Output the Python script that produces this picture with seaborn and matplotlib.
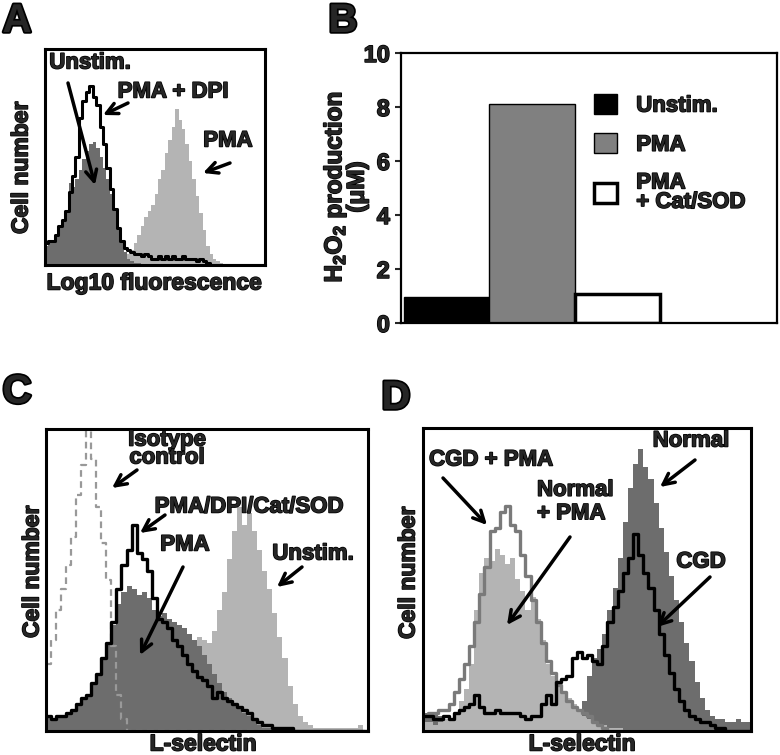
import numpy as np
import pandas as pd
import matplotlib
matplotlib.use("Agg")
import matplotlib.pyplot as plt
import matplotlib.patheffects as pe
import seaborn as sns
from matplotlib.patches import Patch

# ---------------- data (bins 0..63, height in % of panel) -------------
# panel A : Log10 fluorescence histograms
a_pma = [0,0,0,0,0,0,0,0,0,0,0,0,0,0,0,0,0,0,0,0,0,0,2,3,5,7,10,14,18,22,25,28,
         33,40,44,52,58,64,72,67,63,56,48,40,32,24,16,9,5,3,2,1,0,0,0,0,0,0,0,0,0,0,0,0]
a_unstim = [9,10,11,13,17,20,24,38,36,40,44,49,53,56,57,54,50,45,40,33,25,17,10,6,3,2,1,1,0,0,0,0,
            0,0,0,0,0,0,0,0,0,0,0,0,0,0,0,0,0,0,0,0,0,0,0,0,0,0,0,0,0,0,0,0]
a_pma_dpi = [10,11,11,14,18,21,25,34,41,50,68,76,80,83,78,74,64,56,45,35,26,17,11,8,7,6,5,5,4,5,4,3,
             3,4,3,4,3,4,3,3,4,3,3,3,2,3,2,1,0,0,0,0,0,0,0,0,0,0,0,0,0,0,0,0]

# panel B : H2O2 production (uM)
b_labels = ["Unstim.", "PMA", "PMA\n+ Cat/SOD"]
b_values = [0.97, 8.11, 1.07]
b_colors = ["black", "#808080", "white"]

# panel C : L-selectin histograms
c_iso = [22,30,40,47,55,64,78,88,110,90,74,62,50,28,12,4,0,0,0,0,0,0,0,0,0,0,0,0,0,0,0,0,
         0,0,0,0,0,0,0,0,0,0,0,0,0,0,0,0,0,0,0,0,0,0,0,0,0,0,0,0,0,0,0,0]
c_unstim = [0,0,0,0,0,0,0,0,0,0,0,0,0,0,0,0,0,0,3,5,8,12,16,20,24,27,29,30,30,30,31,30,
            29,33,40,46,57,66,74,68,72,66,60,53,47,39,31,24,15,9,5,3,2,1,1,1,1,1,1,1,1,1,2,0]
c_pma = [5,4,5,5,6,7,9,11,12,16,19,24,29,35,42,46,48,47,45,46,44,40,38,39,37,36,35,34,32,30,28,25,
         22,19,16,13,11,9,8,6,5,4,2,1,1,0,0,0,0,0,0,0,0,0,0,0,0,0,0,0,0,0,0,0]
c_pma_dpi = [5,4,5,5,6,7,9,11,12,16,19,24,29,36,47,55,60,68,59,57,53,44,37,36,34,30,28,25,22,20,18,17,
             15,11,13,11,10,9,8,7,6,4,3,2,2,1,1,1,1,0,0,0,0,0,0,0,0,0,0,0,0,0,0,0]

# panel D : L-selectin histograms, CGD vs normal
d_normal = [6,6,6,5,4,3,3,3,3,3,3,3,3,3,3,3,3,3,3,3,3,3,3,3,3,3,3,3,4,5,7,10,
            18,24,27,32,40,47,57,69,80,88,93,87,83,75,67,59,51,43,36,29,23,16,11,7,5,4,4,3,3,4,3,3]
d_normal_pma = [3,3,2,3,4,4,6,10,14,22,40,52,57,56,60,58,55,57,50,46,40,44,37,30,22,18,15,13,11,9,7,5,
                4,3,2,2,1,1,1,0,0,0,0,0,0,0,0,0,0,0,0,0,0,0,0,0,0,0,0,0,0,0,0,0]
d_cgd_pma = [5,6,6,7,7,9,13,17,22,28,36,45,54,66,67,72,74,68,66,58,51,43,36,29,23,19,15,13,10,8,7,6,
             5,3,2,1,0,0,0,0,0,0,0,0,0,0,0,0,0,0,0,0,0,0,0,0,0,0,0,0,0,0,0,0]
d_cgd = [5,5,4,4,5,4,6,7,8,9,12,8,6,6,7,6,6,6,6,5,4,5,5,9,12,9,16,17,18,24,26,24,
         25,23,22,28,36,41,46,52,57,65,58,52,47,40,32,25,19,14,10,7,5,4,3,3,2,1,1,0,0,0,0,0]

LIGHT = "#b4b4b4"
DARK = "#6d6d6d"
HEAVY = [pe.withStroke(linewidth=1.1, foreground="black")]

sns.set_style("white")
plt.rcParams["font.family"] = ["Liberation Sans", "DejaVu Sans"]
plt.rcParams["font.weight"] = "bold"
plt.rcParams["mathtext.fontset"] = "custom"
plt.rcParams["mathtext.bf"] = "Liberation Sans:bold"
plt.rcParams["mathtext.rm"] = "Liberation Sans:bold"
plt.rcParams["mathtext.default"] = "bf"

W, H = 780, 755
fig = plt.figure(figsize=(W / 100, H / 100), dpi=100)


def F(x, y):
    return (x / W, 1 - y / H)


def panel(l, t, r, b):
    ax = fig.add_axes([l / W, 1 - b / H, (r - l) / W, (b - t) / H])
    return ax


def hist(ax, vals, fill, **kw):
    n = len(vals)
    d = pd.DataFrame({"chan": np.arange(n) + 0.5, "count": np.asarray(vals, dtype=float)})
    sns.histplot(data=d, x="chan", weights="count", bins=n, binrange=(0, n),
                 element="step", fill=fill, ax=ax, **kw)


def frame(ax, lw=2.2):
    ax.set_xlim(0, 64)
    ax.set_ylim(0, 100)
    ax.set_xticks([])
    ax.set_yticks([])
    ax.set_xlabel("")
    ax.set_ylabel("")
    for s in ax.spines.values():
        s.set_visible(True)
        s.set_linewidth(lw)
        s.set_color("black")


def txt(x, y, s, size=16, stroke=HEAVY, **kw):
    fig.text(*F(x, y), s, ha=kw.pop("ha", "center"), va="center", fontsize=size,
             fontweight="bold", path_effects=stroke, **kw)


def arrow(ax, x0, y0, x1, y1):
    ax.annotate("", xy=F(x1, y1), xytext=F(x0, y0), xycoords="figure fraction",
                textcoords="figure fraction", annotation_clip=False,
                arrowprops=dict(arrowstyle="->", color="black", lw=2.5,
                                mutation_scale=20, shrinkA=0, shrinkB=0))


# ---------------- A ----------------
axA = panel(44.5, 49, 264.5, 265)
hist(axA, a_pma, True, color=LIGHT, alpha=1, linewidth=0)
hist(axA, a_unstim, True, color=DARK, alpha=1, linewidth=0)
hist(axA, a_pma_dpi, False, color="black", linewidth=2.2)
frame(axA)
txt(90, 63, "Unstim.")
txt(173, 92, "PMA + DPI")
txt(228, 141, "PMA")
arrow(axA, 68, 83, 95, 185)
arrow(axA, 128, 103, 103, 115)
arrow(axA, 230, 163, 203, 173)
txt(154, 283, "Log10 fluorescence", size=16.5)
txt(21, 168, "Cell number", size=16.5, rotation=90)

# ---------------- B ----------------
axB = panel(401, 53, 777, 323)
dfB = pd.DataFrame({"cond": b_labels, "h2o2": b_values})
sns.barplot(data=dfB, x="cond", y="h2o2", hue="cond", palette=b_colors, width=1,
            edgecolor="black", linewidth=1, legend=False, ax=axB)
axB.patches[2].set_linewidth(2.5)
axB.set_xlim(-0.54, 3.88)
axB.set_ylim(0, 10)
axB.set_yticks([0, 2, 4, 6, 8, 10])
axB.set_xticks([])
axB.set_xlabel("")
axB.set_ylabel("")
axB.tick_params(axis="y", direction="out", length=4, width=1.5, labelsize=17, left=True, pad=4)
for lab in axB.get_yticklabels():
    lab.set_path_effects(HEAVY)
for s in axB.spines.values():
    s.set_visible(True)
    s.set_linewidth(1.6)
    s.set_color("black")
handles = [Patch(facecolor=c, edgecolor="black", linewidth=lw)
           for c, lw in zip(b_colors, [1, 1, 2.5])]
leg = axB.legend(handles, b_labels, loc="upper left", bbox_to_anchor=F(594, 94),
                 bbox_transform=fig.transFigure, frameon=False, fontsize=16,
                 handlelength=1.05, handleheight=1.0, handletextpad=0.85,
                 labelspacing=0.75, borderpad=0, borderaxespad=0)
for t in leg.get_texts():
    t.set_linespacing(0.9)
    t.set_path_effects(HEAVY)
txt(345, 187, "H$_2$O$_2$ production\n(\u03bcM)", size=17.5, rotation=90, linespacing=0.85)

# ---------------- C ----------------
axC = panel(46, 428.5, 368, 731)
hist(axC, c_iso, False, color="#999999", linewidth=1.6, linestyle=(0, (3, 2)))
hist(axC, c_unstim, True, color=LIGHT, alpha=1, linewidth=0)
hist(axC, c_pma, True, color=DARK, alpha=1, linewidth=0)
hist(axC, c_pma_dpi, False, color="black", linewidth=2.4)
frame(axC)
txt(167, 449, "Isotype\ncontrol", linespacing=0.8)
txt(249, 507, "PMA/DPI/Cat/SOD")
txt(185, 545, "PMA")
txt(313, 554, "Unstim.")
arrow(axC, 137, 470, 112, 488)
arrow(axC, 165, 515, 140, 533)
arrow(axC, 183, 567, 140, 655)
arrow(axC, 302, 567, 277, 587)
txt(203, 744, "L-selectin", size=16.5)
txt(32, 572, "Cell number", size=16.5, rotation=90)

# ---------------- D ----------------
axD = panel(423, 427.5, 751, 731)
hist(axD, d_normal, True, color=DARK, alpha=1, linewidth=0)
hist(axD, d_normal_pma, True, color=LIGHT, alpha=1, linewidth=0)
hist(axD, d_cgd_pma, False, color="#7a7a7a", linewidth=2.4)
hist(axD, d_cgd, False, color="black", linewidth=2.4)
frame(axD)
txt(491, 460, "CGD + PMA")
txt(537, 502, "Normal\n+ PMA", ha="left", multialignment="left", linespacing=1.15)
txt(691, 441, "Normal")
txt(701, 562, "CGD")
arrow(axD, 443, 478, 487, 525)
arrow(axD, 570, 537, 507, 625)
arrow(axD, 695, 460, 660, 487)
arrow(axD, 710, 577, 657, 627)
txt(582, 744, "L-selectin", size=16.5)
txt(408, 573, "Cell number", size=16.5, rotation=90)

# panel letters
for letter, (x, y) in zip("ABCD", [(17, 21), (343, 21), (17, 392), (396, 398)]):
    txt(x, y, letter, size=29, stroke=[pe.withStroke(linewidth=2.5, foreground="black")])

fig.savefig("out.png", dpi=100)
